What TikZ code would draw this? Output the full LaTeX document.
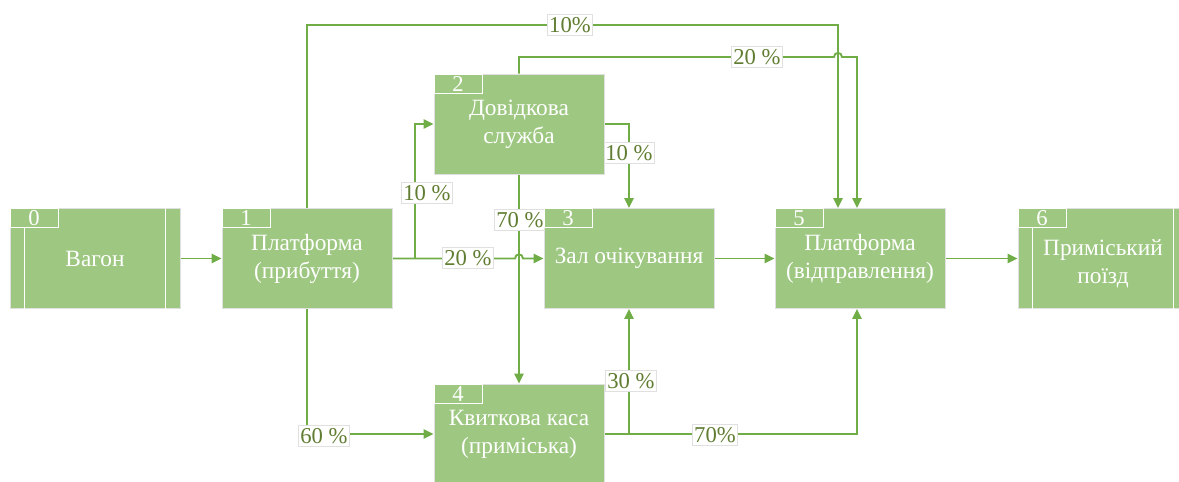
\documentclass[tikz,border=0pt]{standalone}
\usepackage{fontspec}
\setmainfont{Liberation Serif}
\usetikzlibrary{arrows.meta}
\definecolor{boxfill}{RGB}{158,200,130}
\definecolor{flow}{RGB}{112,173,71}
\definecolor{labtext}{RGB}{96,125,50}
\tikzset{
  blk/.style={rectangle, fill=boxfill, draw=black!12, line width=0.6pt,
    minimum width=127.5pt, minimum height=75pt, inner sep=0pt,
    text=white, align=center, font=\fontsize{17.5}{21}\selectfont},
  blktext/.style={text=white, align=center, inner sep=0pt, font=\fontsize{17.5}{21}\selectfont},
  numtab/.style={rectangle, draw=white, line width=0.8pt, anchor=north west,
    minimum width=36pt, minimum height=14.25pt, inner sep=0pt,
    text=white, font=\fontsize{17}{17}\selectfont},
  flowline/.style={draw=flow, line width=1.4pt, -{Triangle[length=7.5pt,width=7pt]}},
  pct/.style={rectangle, fill=white, draw=black!12, line width=0.6pt, text=labtext,
    inner xsep=1.5pt, inner ysep=2pt, font=\fontsize{17}{17}\selectfont},
  sideline/.style={draw=white, line width=0.8pt}
}
\begin{document}
\begin{tikzpicture}[x=0.75pt, y=-0.75pt]
\useasboundingbox (0,0) rectangle (1179,482);

% block positions
\coordinate (p0) at (95,258.5);
\coordinate (p1) at (307,258.5);
\coordinate (p2) at (519,124);
\coordinate (p3) at (629,258.5);
\coordinate (p4) at (519,434);
\coordinate (p5) at (860,258.5);
\coordinate (p6) at (1103,258.5);

% blocks (placed first so the connectors can refer to them; redrawn below on top)
\path (p0) node[blk] (b0) {}; \path (p1) node[blk] (b1) {};
\path (p2) node[blk] (b2) {}; \path (p3) node[blk] (b3) {};
\path (p4) node[blk] (b4) {}; \path (p5) node[blk] (b5) {};
\path (p6) node[blk] (b6) {};

% bend and jump points of the connectors
\coordinate (c838) at (838,25);
\coordinate (c857) at (857,57);
\coordinate (hopA) at (834,57);
\coordinate (hopB) at (842,57);
\coordinate (hopC) at (515,258.5);
\coordinate (hopD) at (523,258.5);
\coordinate (j12) at (415,258.5);

% connectors
\draw[flowline] (b0.east) -- (b1.west);
\draw[flowline] (b1.north) |- (c838) -- (b5.north -| c838);
\draw[flowline] (b2.north) |- (hopA) .. controls +(0,-5.5) and +(0,-5.5) .. (hopB) -- (c857) -- (b5.north -| c857);
\draw[flowline] (b1.east) -- (j12) |- (b2.west);
\draw[flowline] (b1.east) -- (hopC) .. controls +(0,-5.5) and +(0,-5.5) .. (hopD) -- (b3.west);
\draw[flowline] (b2.south) -- (b4.north);
\draw[flowline] (b2.east) -| (b3.north);
\draw[flowline] (b3.east) -- (b5.west);
\draw[flowline] (b5.east) -- (b6.west);
\draw[flowline] (b1.south) |- (b4.west);
\draw[flowline] (b4.east) -| (b3.south);
\draw[flowline] (b4.east) -| (b5.south -| c857);

% flow shares
\node[pct] (l15) at (570,25) {10\%};
\node[pct] (l25) at (757,57) {20 \%};
\node[pct] (l12) at (427,193) {10 \%};
\node[pct] (l13) at (468,258) {20 \%};
\node[pct] (l24) at (520,220) {70 \%};
\node[pct] (l23) at (629,153) {10 \%};
\node[pct] (l43) at (631,381) {30 \%};
\node[pct] (l14) at (324,436) {60 \%};
\node[pct] (l45) at (715,435) {70\%};

% blocks with their texts
\node[blk] (n0) at (p0) {Вагон};
\node[blk] (n1) at (p1) {Платформа\\(прибуття)};
\node[blk] (n2) at (p2) {Довідкова\\служба};
\node[blk] (n3) at (p3) {Зал очікування};
\node[blk] (n4) at (p4) {Квиткова каса\\(приміська)};
\node[blk] (n5) at (p5) {Платформа\\(відправлення)};
\node[blk] (n6) at (p6) {};
\node[blktext] (t6) at ([yshift=-4pt]p6) {Приміський\\поїзд};

% number tabs
\node[numtab] (k0) at (n0.north west) {0};
\node[numtab] (k1) at (n1.north west) {1};
\node[numtab] (k2) at (n2.north west) {2};
\node[numtab] (k3) at (n3.north west) {3};
\node[numtab] (k4) at (n4.north west) {4};
\node[numtab] (k5) at (n5.north west) {5};
\node[numtab] (k6) at (n6.north west) {6};

% side bars of the outer blocks
\draw[sideline] ([xshift=11pt]k0.south west) -- ([xshift=11pt]n0.south west);
\draw[sideline] ([xshift=-11pt]n0.north east) -- ([xshift=-11pt]n0.south east);
\draw[sideline] ([xshift=11pt]k6.south west) -- ([xshift=11pt]n6.south west);
\draw[sideline] ([xshift=-11pt]n6.north east) -- ([xshift=-11pt]n6.south east);
\end{tikzpicture}
\end{document}
